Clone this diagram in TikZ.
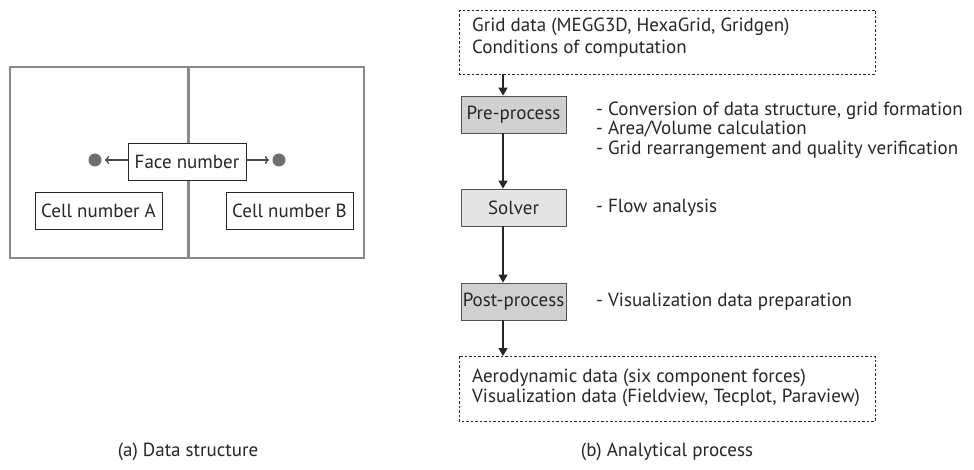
\documentclass[tikz,border=0pt]{standalone}
\usepackage{fontspec}
\setmainfont{PT Sans}
\usetikzlibrary{arrows.meta,positioning,calc}
\definecolor{ink}{HTML}{262626}
\definecolor{wall}{HTML}{8A8A8A}
\definecolor{dotgray}{HTML}{6E6E6E}
\definecolor{procdark}{HTML}{D0D0D0}
\definecolor{proclight}{HTML}{E4E4E4}

\begin{document}
\begin{tikzpicture}[x=1pt,y=-1pt,font=\fontsize{19}{20}\selectfont,text=ink,
 cell/.style={draw=ink,fill=white,minimum height=37pt,inner sep=0pt,line width=0.8pt},
 proc/.style={draw=ink!80,minimum width=105pt,minimum height=37pt,inner sep=0pt,line width=0.8pt},
 dbox/.style={draw=ink,dashed,dash pattern=on 2.5pt off 2pt,line width=0.8pt},
 note/.style={anchor=west,align=left,inner sep=0pt},
 flow/.style={-{Triangle[width=9pt,length=8pt]},line width=1.6pt,draw=ink}]
\useasboundingbox (0,0) rectangle (974,470);
% (a) data structure
\draw[wall,line width=1.6pt] (10,67) rectangle (364,258);
\draw[wall,line width=3pt] (188,67) -- (188,258);
\node[cell,minimum width=118pt] (face) at (187,162) {Face number};
\fill[dotgray] (95,160) circle (6.5) coordinate (dotA);
\fill[dotgray] (279,160) circle (6.5) coordinate (dotB);
\draw[-{To[length=4pt,width=8pt]},line width=1.4pt,ink!85] (face.west |- dotA) -- ([xshift=10pt]dotA);
\draw[-{To[length=4pt,width=8pt]},line width=1.4pt,ink!85] (face.east |- dotB) -- ([xshift=-10pt]dotB);
\node[cell,minimum width=127pt] (cellA) at (98.5,210.5) {Cell number A};
\node[cell,minimum width=127pt] (cellB) at (289.5,210.5) {Cell number B};
\node (capA) at (188,452) {(a) Data structure};
% (b) analytical process
\draw[dbox] (459,10) rectangle (875,74);
\node[note,font=\fontsize{19}{22}\selectfont] (gridin) at (472,38) {Grid data (MEGG3D, HexaGrid, Gridgen)\\Conditions of computation};
\node[proc,fill=procdark] (pre) at (513.5,114.5) {Pre-process};
\node[proc,fill=proclight] (solver) at (513.5,207.5) {Solver};
\node[proc,fill=procdark] (post) at (513.5,301.5) {Post-process};
\draw[dbox] (459,356) rectangle (875,421);
\node[note] (results) at (472,388) {Aerodynamic data (six component forces)\\Visualization data (Fieldview, Tecplot, Paraview)};
\coordinate (topin) at (503,74);
\coordinate (botout) at (503,356);
\node[note,font=\fontsize{19}{19.5}\selectfont] (prenote) at (596,130) {- Conversion of data structure, grid formation\\- Area/Volume calculation\\- Grid rearrangement and quality verification};
\node[note] (solvnote) at (596,207.5) {- Flow analysis};
\node[note] (postnote) at (596,301.5) {- Visualization data preparation};
\draw[flow] (topin) -- (pre.north -| topin);
\draw[flow] (pre.south -| topin) -- (solver.north -| topin);
\draw[flow] (solver.south -| topin) -- (post.north -| topin);
\draw[flow] (post.south -| topin) -- (botout);
\node (capB) at (667,452) {(b) Analytical process};
\end{tikzpicture}
\end{document}
